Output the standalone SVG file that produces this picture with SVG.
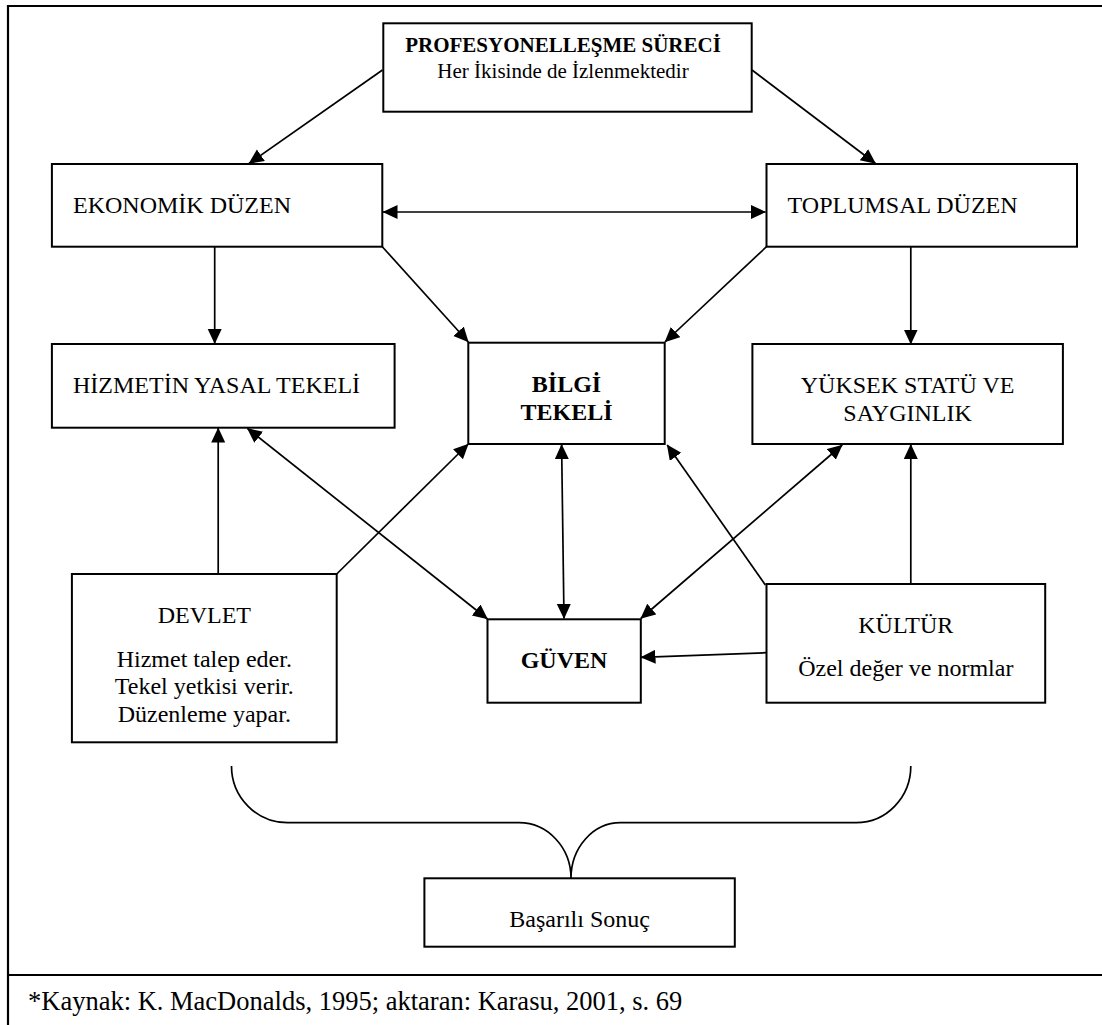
<svg xmlns="http://www.w3.org/2000/svg" width="1102" height="1025" viewBox="0 0 1102 1025">
<style>
text{font-family:"Liberation Serif","Times New Roman",serif;fill:#000;font-size:24px}
.b{font-weight:bold}
.t{font-size:21px}
.f{font-size:26.5px}
.m{text-anchor:middle}
.box{fill:#fff;stroke:#000;stroke-width:2}
.c{fill:none;stroke:#000;stroke-width:1.7}
.frame{fill:none;stroke:#000;stroke-width:2.2}
</style>
<defs>
<marker id="ah" markerUnits="userSpaceOnUse" markerWidth="16" markerHeight="16" refX="14.5" refY="7" orient="auto-start-reverse">
<path d="M0,0 L15,7 L0,14 z" fill="#000"/>
</marker>
</defs>
<rect width="1102" height="1025" fill="#fff"/>
<g id="frame">
<line class="frame" x1="8" y1="6" x2="1102" y2="6"/>
<line class="frame" x1="8" y1="5" x2="8" y2="1025"/>
<line class="frame" x1="8" y1="975" x2="1102" y2="975"/>
</g>
<g id="connectors">
<line class="c" x1="382.5" y1="70" x2="249" y2="163.5" marker-end="url(#ah)"/>
<line class="c" x1="752" y1="70" x2="875.5" y2="163.5" marker-end="url(#ah)"/>
<line class="c" x1="383" y1="212" x2="765.5" y2="212" marker-start="url(#ah)" marker-end="url(#ah)"/>
<line class="c" x1="214.7" y1="246.7" x2="214.7" y2="343.5" marker-end="url(#ah)"/>
<line class="c" x1="382.3" y1="246.7" x2="468.3" y2="342" marker-end="url(#ah)"/>
<line class="c" x1="766.5" y1="246.7" x2="665" y2="342" marker-end="url(#ah)"/>
<line class="c" x1="910.8" y1="246.7" x2="910.8" y2="344" marker-end="url(#ah)"/>
<line class="c" x1="218.2" y1="574" x2="218.2" y2="428" marker-end="url(#ah)"/>
<line class="c" x1="336.7" y1="574" x2="468.3" y2="444" marker-end="url(#ah)"/>
<line class="c" x1="247.3" y1="428.3" x2="487.5" y2="619" marker-start="url(#ah)" marker-end="url(#ah)"/>
<line class="c" x1="561.6" y1="444.5" x2="564" y2="618.5" marker-start="url(#ah)" marker-end="url(#ah)"/>
<line class="c" x1="842.2" y1="445" x2="640.8" y2="618.5" marker-start="url(#ah)" marker-end="url(#ah)"/>
<line class="c" x1="765.4" y1="585" x2="667.2" y2="445" marker-end="url(#ah)"/>
<line class="c" x1="910.8" y1="584" x2="910.8" y2="444.5" marker-end="url(#ah)"/>
<line class="c" x1="766.5" y1="652.7" x2="641" y2="657.3" marker-end="url(#ah)"/>
<path class="c" d="M231.5,766 A56,56.7 0 0 0 287.6,822.7 L519,822.7 A52,55.6 0 0 1 571,878.3 A49.4,55.6 0 0 1 620.4,822.7 L856.2,822.7 A54.6,56.7 0 0 0 910.8,766"/>
</g>
<g id="profesyonellesme">
<rect class="box" x="383.3" y="23.3" width="368.4" height="88.4"/>
<text class="t b m" x="563" y="51.7">PROFESYONELLEŞME SÜRECİ</text>
<text class="t m" x="563" y="78.3">Her İkisinde de İzlenmektedir</text>
</g>
<g id="ekonomik">
<rect class="box" x="51.9" y="164" width="330.4" height="82.7"/>
<text x="73" y="212.7">EKONOMİK DÜZEN</text>
</g>
<g id="toplumsal">
<rect class="box" x="766.5" y="164" width="310.5" height="82.7"/>
<text x="787.6" y="212.7">TOPLUMSAL DÜZEN</text>
</g>
<g id="hizmet">
<rect class="box" x="51.9" y="344" width="342.7" height="83.7"/>
<text x="73" y="393.3">HİZMETİN YASAL TEKELİ</text>
</g>
<g id="bilgi">
<rect class="box" x="468.3" y="342.7" width="196.4" height="101.3"/>
<text class="b m" x="566.5" y="391.7">BİLGİ</text>
<text class="b m" x="566.5" y="420">TEKELİ</text>
</g>
<g id="yuksek">
<rect class="box" x="752.4" y="344" width="310.5" height="100"/>
<text class="m" x="907.6" y="393.3">YÜKSEK STATÜ VE</text>
<text class="m" x="907.6" y="420.7">SAYGINLIK</text>
</g>
<g id="devlet">
<rect class="box" x="71.9" y="574" width="264.8" height="168.3"/>
<text class="m" x="204.3" y="623.3">DEVLET</text>
<text class="m" x="204.3" y="666.7">Hizmet talep eder.</text>
<text class="m" x="204.3" y="694">Tekel yetkisi verir.</text>
<text class="m" x="204.3" y="721.7">Düzenleme yapar.</text>
</g>
<g id="guven">
<rect class="box" x="487.5" y="619.3" width="153.3" height="83.4"/>
<text class="b m" x="564" y="668.3">GÜVEN</text>
</g>
<g id="kultur">
<rect class="box" x="766.5" y="584" width="278.7" height="118.7"/>
<text class="m" x="905.8" y="632.7">KÜLTÜR</text>
<text class="m" x="905.8" y="676">Özel değer ve normlar</text>
</g>
<g id="basarili">
<rect class="box" x="424.4" y="878.3" width="310.4" height="68.4"/>
<text class="m" x="579.6" y="926.7">Başarılı Sonuç</text>
</g>
<g id="footer">
<text class="f" x="28" y="1009.5">*Kaynak: K. MacDonalds, 1995; aktaran: Karasu, 2001, s. 69</text>
</g>
</svg>
